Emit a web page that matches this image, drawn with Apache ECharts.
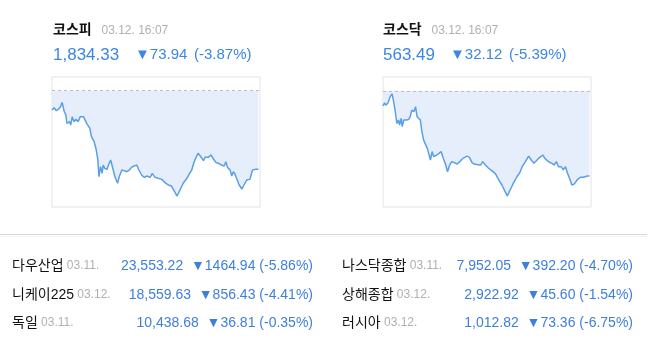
<!DOCTYPE html>
<html>
<head>
<meta charset="utf-8">
<script src="https://cdn.jsdelivr.net/npm/echarts@6/dist/echarts.min.js"></script>
<style>
  html, body { margin: 0; padding: 0; background: #fff; }
  #market { width: 655px; height: 351px; }
</style>
</head>
<body>
<div id="market"></div>
<script>
  // intraday minutes from 09:00 and index values
  var kospiTimes = [
    0, 4, 8, 12, 16, 19, 23, 26, 28, 33,
    35, 38, 41, 45, 49, 53, 56, 59, 62, 65,
    68, 71, 74, 79, 83, 86, 88, 91, 94, 96,
    99, 103, 106, 110, 114, 118, 123, 126, 131, 135,
    140, 145, 149, 154, 159, 163, 168, 173, 178, 184,
    188, 193, 199, 206, 212, 218, 224, 231, 234, 237,
    240, 246, 253, 258, 262, 266, 270, 274, 278, 281,
    284, 287, 290, 293, 298, 301, 304, 308, 312, 318,
    323, 326, 329, 334, 337, 340, 343, 346, 351, 356,
    360, 365, 371, 376, 381, 387
  ];
  var kospiValues = [
    1890.1, 1892.3, 1889.5, 1890.8, 1893.3, 1897.4, 1888.6, 1885.4, 1877.6, 1879.2,
    1876.0, 1883.9, 1879.2, 1881.4, 1879.2, 1883.9, 1885.4, 1883.9, 1882.3, 1877.6,
    1879.2, 1872.9, 1865.1, 1860.4, 1852.5, 1843.1, 1827.4, 1836.8, 1830.6, 1838.4,
    1835.3, 1834.3, 1838.4, 1843.1, 1835.3, 1827.4, 1821.2, 1827.4, 1833.7, 1833.1,
    1832.1, 1833.7, 1836.2, 1837.5, 1838.4, 1833.7, 1829.0, 1826.8, 1828.1, 1826.8,
    1830.6, 1826.8, 1825.9, 1824.9, 1821.8, 1819.6, 1818.6, 1812.4, 1809.2, 1811.7,
    1814.9, 1821.2, 1825.9, 1830.6, 1833.7, 1840.6, 1845.6, 1849.4, 1846.9, 1847.8,
    1842.5, 1845.6, 1846.2, 1845.6, 1847.8, 1848.1, 1843.1, 1840.6, 1840.0, 1838.4,
    1837.5, 1841.5, 1836.2, 1833.7, 1828.1, 1832.1, 1829.9, 1825.9, 1819.6, 1815.8,
    1819.6, 1824.3, 1824.9, 1833.7, 1834.3, 1834.33
  ];
  var kospiPrev = 1908.27;

  var kosdaqTimes = [
    0, 3, 5, 9, 11, 14, 17, 20, 23, 26,
    29, 31, 34, 36, 39, 44, 48, 51, 54, 58,
    61, 64, 67, 70, 73, 76, 79, 83, 86, 89,
    92, 95, 98, 101, 104, 109, 113, 117, 121, 125,
    129, 134, 139, 144, 148, 153, 158, 162, 167, 171,
    176, 183, 187, 192, 198, 204, 211, 217, 223, 229,
    233, 236, 239, 245, 251, 256, 261, 267, 273, 278,
    283, 288, 292, 296, 300, 303, 308, 313, 317, 321,
    325, 329, 334, 338, 342, 346, 351, 354, 359, 364,
    370, 376, 383, 387
  ];
  var kosdaqValues = [
    589.9, 591.1, 590.2, 590.9, 591.5, 593.6, 594.4, 591.5, 587.7, 583.3,
    584.6, 582.7, 585.2, 582.1, 584.6, 584.6, 584.8, 585.8, 588.3, 587.7,
    589.6, 585.8, 586.1, 584.6, 580.2, 577.1, 576.4, 573.9, 573.3, 569.5,
    572.7, 570.8, 571.4, 571.4, 572.0, 572.7, 570.2, 568.0, 565.1, 567.6,
    568.9, 568.5, 568.0, 568.9, 569.8, 570.5, 571.0, 570.5, 568.5, 568.0,
    567.8, 567.6, 568.9, 567.6, 566.4, 565.5, 564.3, 562.0, 560.1, 557.6,
    556.0, 557.2, 558.5, 561.0, 563.2, 564.5, 567.0, 568.9, 571.0, 569.5,
    568.3, 569.3, 570.2, 570.8, 571.4, 570.2, 569.3, 568.5, 568.3, 567.6,
    568.9, 567.0, 567.0, 565.8, 567.0, 564.5, 562.0, 560.1, 560.5, 562.0,
    563.0, 563.0, 563.5, 563.49
  ];
  var kosdaqPrev = 595.61;

  // header texts
  var headNames = ['코스피', '코스닥'];
  var headDates = ['03.12. 16:07', '03.12. 16:07'];
  var headPrices = ['1,834.33', '563.49'];
  var headChanges = ['▼73.94', '▼32.12'];
  var headRates = ['(-3.87%)', '(-5.39%)'];

  // world indices table
  var worldNames = ['다우산업', '니케이225', '독일', '나스닥종합', '상해종합', '러시아'];
  var worldDates = ['03.11.', '03.12.', '03.11.', '03.11.', '03.12.', '03.12.'];
  var worldPrices = ['23,553.22', '18,559.63', '10,438.68', '7,952.05', '2,922.92', '1,012.82'];
  var worldChanges = ['▼1464.94 (-5.86%)', '▼856.43 (-4.41%)', '▼36.81 (-0.35%)',
    '▼392.20 (-4.70%)', '▼45.60 (-1.54%)', '▼73.36 (-6.75%)'];

  var FONT = '"Liberation Sans", "Noto Sans CJK KR", sans-serif';
  var BLUE = '#3b87e4';

  function pairs(times, values) {
    return times.map(function (t, i) { return [t, values[i]]; });
  }

  var graphics = [];
  var headX = [53, 383];
  for (var i = 0; i < 2; i++) {
    var hx = headX[i];
    graphics.push({ type: 'text', x: hx, y: 30, style: {
      text: headNames[i], font: 'bold 14px ' + FONT, fill: '#111', verticalAlign: 'middle' } });
    graphics.push({ type: 'text', x: hx + 48.5, y: 30.5, style: {
      text: headDates[i], font: '12px ' + FONT, fill: '#b0b0b0', verticalAlign: 'middle' } });
    graphics.push({ type: 'text', x: hx, y: 55, style: {
      text: headPrices[i], font: '17px ' + FONT, fill: BLUE, verticalAlign: 'middle' } });
  }
  graphics.push({ type: 'text', x: 135, y: 55, style: { text: headChanges[0], font: '15px ' + FONT, fill: BLUE, verticalAlign: 'middle' } });
  graphics.push({ type: 'text', x: 194, y: 55, style: { text: headRates[0], font: '15px ' + FONT, fill: BLUE, verticalAlign: 'middle' } });
  graphics.push({ type: 'text', x: 450, y: 55, style: { text: headChanges[1], font: '15px ' + FONT, fill: BLUE, verticalAlign: 'middle' } });
  graphics.push({ type: 'text', x: 509, y: 55, style: { text: headRates[1], font: '15px ' + FONT, fill: BLUE, verticalAlign: 'middle' } });

  // separator
  graphics.push({ type: 'line', shape: { x1: 0, y1: 234.5, x2: 647, y2: 234.5 }, style: { stroke: '#d9d9d9', lineWidth: 1 } });
  graphics.push({ type: 'line', shape: { x1: 0, y1: 236.5, x2: 647, y2: 236.5 }, style: { stroke: '#f2f2f2', lineWidth: 1 } });

  var rowY = [266, 295, 323];
  for (var j = 0; j < worldNames.length; j++) {
    var col = j < 3 ? 0 : 1;
    var ry = rowY[j % 3];
    var nx = col === 0 ? 12 : 342;
    var rx = col === 0 ? 313 : 633;
    graphics.push({ type: 'text', x: nx, y: ry, style: {
      text: '{n|' + worldNames[j] + '} {d|' + worldDates[j] + '}',
      verticalAlign: 'middle',
      rich: {
        n: { font: '14px ' + FONT, fill: '#111', color: '#111' },
        d: { font: '12px ' + FONT, fill: '#b0b0b0', color: '#b0b0b0' }
      } } });
    graphics.push({ type: 'text', x: rx, y: ry, style: {
      text: worldPrices[j] + '  ' + worldChanges[j],
      font: '14px ' + FONT, fill: '#3e7fdc', align: 'right', verticalAlign: 'middle' } });
  }

  function lineSeries(idx, data, prev) {
    return {
      type: 'line',
      xAxisIndex: idx,
      yAxisIndex: idx,
      data: data,
      showSymbol: false,
      silent: true,
      lineStyle: { color: '#5a9fe8', width: 1.5 },
      areaStyle: { color: '#e5eefa', opacity: 1, origin: prev },
      markLine: {
        symbol: 'none',
        silent: true,
        label: { show: false },
        lineStyle: { type: [3, 3], color: '#bdbdbd', width: 1 },
        data: [{ yAxis: prev }]
      }
    };
  }

  var hiddenX = { type: 'value', min: 0, max: 390, show: false };

  var chart = echarts.init(document.getElementById('market'), null, { renderer: 'canvas' });
  var option = {
    backgroundColor: '#fff',
    animation: false,
    grid: [
      { left: 52, top: 77, width: 208, height: 130, show: true, borderColor: '#e3e3e3', borderWidth: 1 },
      { left: 383, top: 77, width: 208, height: 130, show: true, borderColor: '#e3e3e3', borderWidth: 1 }
    ],
    xAxis: [
      Object.assign({ gridIndex: 0 }, hiddenX),
      Object.assign({ gridIndex: 1 }, hiddenX)
    ],
    yAxis: [
      { gridIndex: 0, type: 'value', min: 1798.9, max: 1921.2, show: false },
      { gridIndex: 1, type: 'value', min: 551.8, max: 600.8, show: false }
    ],
    series: [
      lineSeries(0, pairs(kospiTimes, kospiValues), kospiPrev),
      lineSeries(1, pairs(kosdaqTimes, kosdaqValues), kosdaqPrev)
    ],
    graphic: graphics
  };
  chart.setOption(option);
</script>
</body>
</html>
